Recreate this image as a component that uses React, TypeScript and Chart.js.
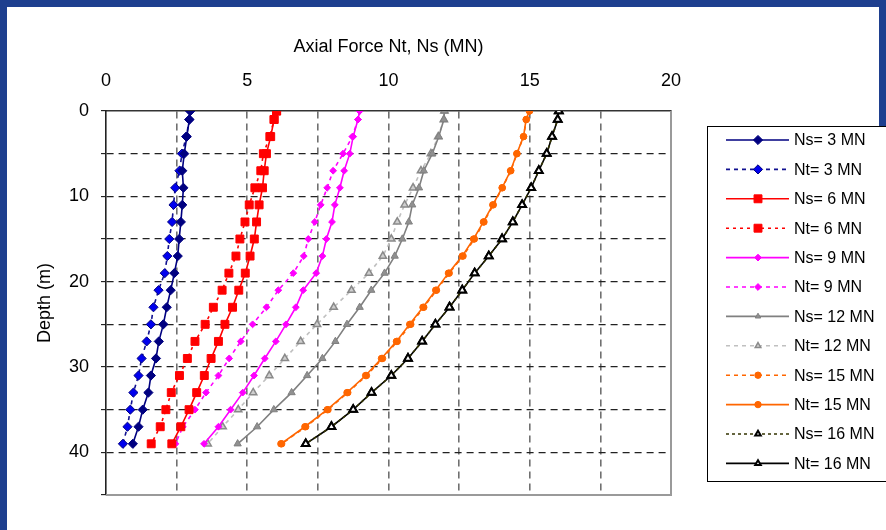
import React, { useEffect, useRef } from 'react';
import { Chart, registerables } from 'chart.js';
import { drawPoint } from 'chart.js/helpers';

Chart.register(...registerables);

// Depth of each measuring level (m)
const depths = [0, 1, 3, 5, 7, 9, 11, 13, 15, 17, 19, 21, 23, 25, 27, 29, 31, 33, 35, 37, 39];

// Axial force profiles (MN) at each depth
const ns3 = [2.98, 2.95, 2.86, 2.77, 2.7, 2.74, 2.7, 2.65, 2.59, 2.54, 2.42, 2.29, 2.15, 2.03, 1.87, 1.77, 1.59, 1.5, 1.3, 1.15, 0.95];
const nt3 = [2.98, 2.95, 2.84, 2.69, 2.6, 2.45, 2.39, 2.34, 2.24, 2.17, 2.08, 1.86, 1.68, 1.59, 1.44, 1.26, 1.15, 0.97, 0.86, 0.76, 0.6];
const ns6 = [6.04, 5.95, 5.83, 5.68, 5.6, 5.54, 5.42, 5.33, 5.25, 5.1, 4.93, 4.7, 4.48, 4.21, 3.98, 3.72, 3.48, 3.21, 2.94, 2.65, 2.33];
const nt6 = [6.04, 5.95, 5.8, 5.57, 5.48, 5.27, 5.07, 4.92, 4.74, 4.6, 4.35, 4.11, 3.8, 3.51, 3.15, 2.88, 2.6, 2.31, 2.12, 1.92, 1.6];
const ns9 = [8.98, 8.92, 8.75, 8.63, 8.43, 8.28, 8.1, 8.0, 7.8, 7.66, 7.44, 6.98, 6.72, 6.37, 6.01, 5.62, 5.24, 4.84, 4.41, 3.98, 3.47];
const nt9 = [8.98, 8.92, 8.72, 8.39, 8.04, 7.83, 7.6, 7.39, 7.16, 7.0, 6.63, 6.1, 5.68, 5.19, 4.77, 4.36, 3.98, 3.54, 3.15, 2.72, 2.46];
const ns12 = [11.98, 11.96, 11.78, 11.55, 11.25, 11.08, 10.84, 10.72, 10.49, 10.22, 9.86, 9.39, 8.98, 8.53, 8.12, 7.66, 7.12, 6.57, 5.94, 5.35, 4.66];
const nt12 = [11.98, 11.96, 11.76, 11.5, 11.15, 10.87, 10.57, 10.31, 10.1, 9.8, 9.31, 8.69, 8.06, 7.47, 6.89, 6.33, 5.78, 5.21, 4.68, 4.13, 3.6];
const ns15 = [14.99, 14.88, 14.78, 14.55, 14.33, 14.03, 13.71, 13.38, 13.04, 12.64, 12.15, 11.7, 11.25, 10.79, 10.31, 9.79, 9.22, 8.56, 7.86, 7.07, 6.22];
const nt15 = [14.99, 14.87, 14.78, 14.54, 14.32, 14.02, 13.69, 13.36, 13.01, 12.61, 12.12, 11.67, 11.22, 10.75, 10.28, 9.75, 9.19, 8.53, 7.83, 7.04, 6.19];
const ns16 = [16.03, 15.99, 15.79, 15.6, 15.32, 15.05, 14.73, 14.4, 14.02, 13.55, 13.05, 12.61, 12.16, 11.66, 11.19, 10.69, 10.1, 9.4, 8.75, 7.98, 7.07];
const nt16 = [16.03, 15.99, 15.79, 15.6, 15.32, 15.05, 14.73, 14.4, 14.02, 13.55, 13.05, 12.61, 12.16, 11.66, 11.19, 10.69, 10.1, 9.4, 8.75, 7.98, 7.07];

const seriesLabels = [
  'Ns= 3 MN', 'Nt= 3 MN', 'Ns= 6 MN', 'Nt= 6 MN', 'Ns= 9 MN', 'Nt= 9 MN',
  'Ns= 12 MN', 'Nt= 12 MN', 'Ns= 15 MN', 'Nt= 15 MN', 'Ns= 16 MN', 'Nt= 16 MN',
];
const seriesValues = [ns3, nt3, ns6, nt6, ns9, nt9, ns12, nt12, ns15, nt15, ns16, nt16];

const xTicks = [0, 5, 10, 15, 20];
const yTicks = [0, 10, 20, 30, 40];

const FONT = '"Liberation Sans", Arial, sans-serif';

type Style = {
  line: string;
  dash: number[];
  width: number;
  shape: string;
  r: number;
  fill: string;
  stroke: string;
  bw: number;
};

const styles: Style[] = [
  { line: '#000080', dash: [], width: 1.6, shape: 'rectRot', r: 4.6, fill: '#000080', stroke: '#000080', bw: 1 },
  { line: '#101090', dash: [4, 4], width: 1.6, shape: 'rectRot', r: 4.6, fill: '#0000ee', stroke: '#000080', bw: 1 },
  { line: '#ff0000', dash: [], width: 1.6, shape: 'rect', r: 5.6, fill: '#ff0000', stroke: '#ff0000', bw: 1 },
  { line: '#ff0000', dash: [3, 4], width: 1.6, shape: 'rect', r: 5.6, fill: '#ff0000', stroke: '#ff0000', bw: 1 },
  { line: '#ff00ff', dash: [], width: 1.6, shape: 'rectRot', r: 3.4, fill: '#ff00ff', stroke: '#ff00ff', bw: 1 },
  { line: '#ff00ff', dash: [4, 4], width: 1.6, shape: 'rectRot', r: 3.4, fill: '#ff00ff', stroke: '#ff00ff', bw: 1 },
  { line: '#808080', dash: [], width: 1.6, shape: 'triangle', r: 4.2, fill: '#909090', stroke: '#808080', bw: 1 },
  { line: '#c0c0c0', dash: [4, 4], width: 1.6, shape: 'triangle', r: 4.2, fill: '#cfcfcf', stroke: '#8a8a8a', bw: 1.5 },
  { line: '#ff6600', dash: [4, 4], width: 1.6, shape: 'circle', r: 3.2, fill: '#ff6600', stroke: '#ff6600', bw: 1 },
  { line: '#ff6600', dash: [], width: 1.6, shape: 'circle', r: 3.2, fill: '#ff6600', stroke: '#ff6600', bw: 1 },
  { line: '#333300', dash: [3, 3], width: 1.6, shape: 'triangle', r: 4.4, fill: '#ffffff', stroke: '#000000', bw: 2 },
  { line: '#000000', dash: [], width: 1.6, shape: 'triangle', r: 4.4, fill: '#ffffff', stroke: '#000000', bw: 2 },
];

// Boxed legend on the right, one row per series with line sample and marker
const boxLegend = {
  id: 'boxLegend',
  afterDraw(chart: any) {
    const ctx = chart.ctx as CanvasRenderingContext2D;
    const left = 707.5;
    const top = 126.5;
    ctx.save();
    ctx.fillStyle = '#ffffff';
    ctx.fillRect(left, top, 200, 355);
    ctx.strokeStyle = '#000000';
    ctx.lineWidth = 1;
    ctx.strokeRect(left, top, 200, 355);
    chart.data.datasets.forEach((ds: any, i: number) => {
      const y = 140 + i * 29.4;
      ctx.beginPath();
      ctx.setLineDash(ds.borderDash || []);
      ctx.strokeStyle = ds.borderColor;
      ctx.lineWidth = ds.borderWidth;
      ctx.moveTo(726, y);
      ctx.lineTo(789, y);
      ctx.stroke();
      ctx.setLineDash([]);
      ctx.fillStyle = ds.pointBackgroundColor;
      ctx.strokeStyle = ds.pointBorderColor;
      ctx.lineWidth = ds.pointBorderWidth;
      drawPoint(ctx, {
        pointStyle: ds.pointStyle,
        rotation: 0,
        radius: ds.pointStyle === 'triangle' ? 3.2 : ds.pointRadius,
        borderWidth: ds.pointBorderWidth,
      } as any, 758, y);
      ctx.fillStyle = '#000000';
      ctx.font = `16px ${FONT}`;
      ctx.textBaseline = 'middle';
      ctx.textAlign = 'left';
      ctx.fillText(ds.label, 794, y + 1);
    });
    ctx.restore();
  },
};

// Right and bottom edges of the plot frame
const plotFrame = {
  id: 'plotFrame',
  beforeDatasetsDraw(chart: any) {
    const { ctx, chartArea } = chart;
    ctx.save();
    ctx.strokeStyle = '#9a9a9a';
    ctx.lineWidth = 2;
    ctx.beginPath();
    ctx.moveTo(chartArea.right, chartArea.top);
    ctx.lineTo(chartArea.right, chartArea.bottom);
    ctx.lineTo(chartArea.left, chartArea.bottom);
    ctx.stroke();
    ctx.restore();
  },
};

export default function App() {
  const canvasRef = useRef<HTMLCanvasElement | null>(null);

  useEffect(() => {
    if (!canvasRef.current) return;
    const datasets = seriesLabels.map((label, i) => {
      const s = styles[i];
      return {
        label,
        data: depths.map((d, k) => ({ x: seriesValues[i][k], y: d })),
        showLine: true,
        borderColor: s.line,
        borderDash: s.dash,
        borderWidth: s.width,
        pointStyle: s.shape,
        pointRadius: s.r,
        pointBackgroundColor: s.fill,
        pointBorderColor: s.stroke,
        pointBorderWidth: s.bw,
        tension: 0,
      };
    });

    const chart = new Chart(canvasRef.current, {
      type: 'scatter',
      data: { datasets },
      options: {
        responsive: false,
        animation: false,
        events: [],
        layout: { padding: { left: 0, top: 0, right: 215, bottom: 35 } },
        plugins: { legend: { display: false }, tooltip: { enabled: false } },
        scales: {
          x: {
            type: 'linear',
            position: 'top',
            min: 0,
            max: 20,
            afterFit: (scale: any) => { scale.height = 111; },
            afterBuildTicks: (scale: any) => {
              const t: any[] = [];
              for (let v = 0; v <= 20; v += 2.5) t.push({ value: v });
              scale.ticks = t;
            },
            ticks: {
              autoSkip: false,
              maxRotation: 0,
              padding: 19,
              color: '#000',
              font: { family: FONT, size: 18 },
              callback: (v: any) => (xTicks.includes(Number(v)) ? String(v) : ''),
            },
            grid: {
              drawTicks: false,
              color: (c: any) => (c.tick && (c.tick.value === 0 || c.tick.value === 20) ? 'rgba(0,0,0,0)' : '#707070'),
              lineWidth: 1.6,
            },
            border: { display: true, color: '#333', width: 1.6, dash: [7, 5] },
            title: {
              display: true,
              text: 'Axial Force Nt, Ns (MN)',
              color: '#000',
              font: { family: FONT, size: 18 },
              padding: { top: 36, bottom: 0 },
            },
          },
          y: {
            type: 'linear',
            reverse: true,
            min: 0,
            max: 45,
            afterFit: (scale: any) => { scale.width = 106; },
            afterBuildTicks: (scale: any) => {
              const t: any[] = [];
              for (let v = 0; v <= 45; v += 5) t.push({ value: v });
              scale.ticks = t;
            },
            ticks: {
              autoSkip: false,
              padding: 12,
              color: '#000',
              font: { family: FONT, size: 18 },
              callback: (v: any) => (yTicks.includes(Number(v)) ? String(v) : ''),
            },
            grid: {
              drawTicks: true,
              tickLength: 5,
              tickColor: '#000',
              tickWidth: 1,
              tickBorderDash: [],
              color: (c: any) => (c.tick && (c.tick.value === 0 || c.tick.value === 45) ? 'rgba(0,0,0,0)' : '#222'),
              lineWidth: 1.3,
            } as any,
            border: { display: true, color: '#222', width: 1.6, dash: [7, 5] },
            title: {
              display: true,
              text: 'Depth (m)',
              color: '#000',
              font: { family: FONT, size: 18 },
              padding: { top: 34, bottom: 0 },
            },
          },
        },
      },
      plugins: [plotFrame, boxLegend],
    } as any);

    return () => chart.destroy();
  }, []);

  return (
    <div style={{ position: 'absolute', left: 0, top: 0, width: 886, height: 530, background: '#1e3f8f', overflow: 'hidden' }}>
      <div style={{ position: 'absolute', left: 7, top: 7, width: 872, height: 523, background: '#ffffff' }} />
      <div style={{ position: 'absolute', left: 870, top: 126, width: 16, height: 404, background: '#ffffff' }} />
      <canvas ref={canvasRef} width={886} height={530} style={{ position: 'absolute', left: 0, top: 0, display: 'block' }} />
    </div>
  );
}
